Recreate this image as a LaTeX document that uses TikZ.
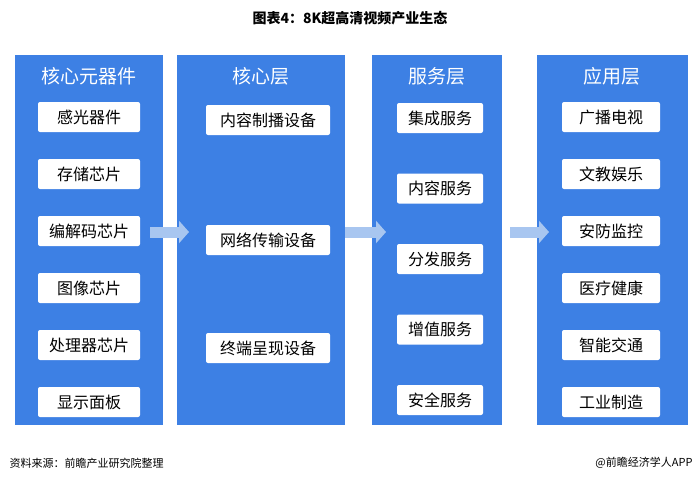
\documentclass[tikz,border=0pt]{standalone}
\usepackage{fontspec}
\setmainfont{Noto Sans CJK SC}
\usetikzlibrary{arrows.meta}
\definecolor{colblue}{HTML}{3D80E4}
\definecolor{arrblue}{HTML}{A8C6F0}
\tikzset{
  column/.style={fill=colblue,draw=none},
  head/.style={text=white,font=\fontsize{19}{19}\selectfont},
  item/.style={fill=white,rounded corners=2pt,minimum height=30pt,font=\fontsize{16}{16}\selectfont,inner sep=0pt},
  flow/.style={-{Triangle[length=10pt,width=22pt]},line width=11pt,arrblue}
}
\begin{document}
\begin{tikzpicture}[x=1pt,y=-1pt]
        \useasboundingbox[fill=white] (0,0) rectangle (700,483);
        \node[font=\bfseries\fontsize{14}{14}\selectfont] (title) at (350,18) {图表4：8K超高清视频产业生态};

        % columns
        \fill[column] (15,55) rectangle (163,425);
        \fill[column] (177,55) rectangle (345,425);
        \fill[column] (372,55) rectangle (502,425);
        \fill[column] (537,55) rectangle (688,425);
        \node[head] (h1) at (89,76)  {核心元器件};
        \node[head] (h2) at (261,76) {核心层};
        \node[head] (h3) at (437,76) {服务层};
        \node[head] (h4) at (612,76) {应用层};

        % core components
        \foreach \t [count=\i] in {感光器件,存储芯片,编解码芯片,图像芯片,处理器芯片,显示面板}
            \node[item,minimum width=102pt] (a\i) at (89,{117+57*(\i-1)}) {\t};
        % core layer
        \node[item,minimum width=124pt] (b1) at (268,120) {内容制播设备};
        \node[item,minimum width=124pt] (b2) at (268,240) {网络传输设备};
        \node[item,minimum width=124pt] (b3) at (268,348) {终端呈现设备};
        % service layer
        \foreach \t [count=\i] in {集成服务,内容服务,分发服务,增值服务,安全服务}
            \node[item,minimum width=86pt] (c\i) at (440,{118+70.5*(\i-1)}) {\t};
        % application layer
        \foreach \t [count=\i] in {广播电视,文教娱乐,安防监控,医疗健康,智能交通,工业制造}
            \node[item,minimum width=98pt] (d\i) at (611,{117+57*(\i-1)}) {\t};

        \coordinate (p1) at (150,232); \coordinate (q1) at (189,232);
        \coordinate (p2) at (345,232); \coordinate (q2) at (386,232);
        \coordinate (p3) at (510,232); \coordinate (q3) at (549,232);
        \draw[flow] (p1) -- (q1);
        \draw[flow] (p2) -- (q2);
        \draw[flow] (p3) -- (q3);

        \node[anchor=west,font=\fontsize{11}{11}\selectfont] (src) at (6,463) {资料来源：前瞻产业研究院整理};
        \node[anchor=east,font=\fontsize{11}{11}\selectfont] (app) at (696,463) {@前瞻经济学人APP};
    \end{tikzpicture}
\end{document}
